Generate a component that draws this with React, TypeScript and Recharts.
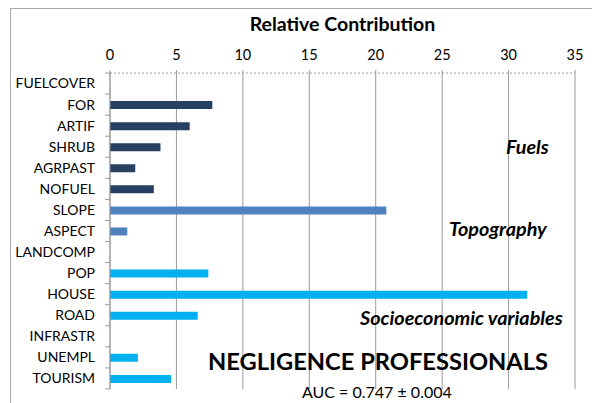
import React from 'react';
import { BarChart, Bar, XAxis, YAxis, CartesianGrid, Cell } from 'recharts';

const categories = ['FUELCOVER', 'FOR', 'ARTIF', 'SHRUB', 'AGRPAST', 'NOFUEL', 'SLOPE', 'ASPECT', 'LANDCOMP', 'POP', 'HOUSE', 'ROAD', 'INFRASTR', 'UNEMPL', 'TOURISM'];
const contributions = [0, 7.7, 6.0, 3.8, 1.9, 3.3, 20.8, 1.3, 0, 7.4, 31.4, 6.6, 0, 2.1, 4.6];
const groups = ['fuel', 'fuel', 'fuel', 'fuel', 'fuel', 'fuel', 'topo', 'topo', 'topo', 'socio', 'socio', 'socio', 'socio', 'socio', 'socio'];
const groupColors: Record<string, string> = { fuel: '#254061', topo: '#4F81BD', socio: '#00B0F0' };
const xTicks = [0, 5, 10, 15, 20, 25, 30, 35];

const data = categories.map((name, i) => ({ name, value: contributions[i], group: groups[i] }));

const FONT = 'Lato, "Open Sans", sans-serif';
const W = 592;
const H = 403;
const MARGIN = { top: 0, right: 17, bottom: 14, left: 0 };
const X_AXIS_H = 73;
const Y_AXIS_W = 110;
const TICK_MARGIN = 15;
const BAND = (H - MARGIN.top - MARGIN.bottom - X_AXIS_H) / categories.length;

const CatTick = (props: any) => {
  const { x, y, payload, index } = props;
  const axisX = x + TICK_MARGIN;
  const half = BAND / 2;
  return (
    <g>
      <line x1={axisX - 5} x2={axisX} y1={y - half} y2={y - half} stroke="#9a9a9a" />
      {index === categories.length - 1 && (
        <line x1={axisX - 5} x2={axisX} y1={y + half} y2={y + half} stroke="#9a9a9a" />
      )}
      <text x={x} y={y} dy="0.35em" textAnchor="end" fill="#000" fontSize={14} fontFamily={FONT}>
        {payload.value}
      </text>
    </g>
  );
};

export default function App() {
  const anno: React.CSSProperties = {
    position: 'absolute',
    fontFamily: FONT,
    fontWeight: 700,
    fontStyle: 'italic',
    fontSize: 19.8,
    color: '#000',
    whiteSpace: 'nowrap',
    lineHeight: 1,
  };
  return (
    <div style={{ position: 'absolute', left: 0, top: 0, width: W, height: H, background: '#fff', overflow: 'hidden' }}>
      <BarChart
        width={W}
        height={H}
        data={data}
        layout="vertical"
        margin={MARGIN}
        style={{ position: 'absolute', left: 0, top: 0, fontFamily: FONT }}
      >
        <CartesianGrid horizontal={false} vertical stroke="#9a9a9a" strokeWidth={1} />
        <XAxis
          type="number"
          orientation="top"
          domain={[0, 35]}
          ticks={xTicks}
          height={X_AXIS_H}
          axisLine={{ stroke: '#9a9a9a', strokeDasharray: '2 2' }}
          tickLine={{ stroke: '#9a9a9a' }}
          tickSize={3}
          tickMargin={10}
          tick={{ fill: '#000', fontSize: 14.5, fontFamily: FONT }}
          label={{ value: 'Relative Contribution', position: 'insideTop', offset: 17, fill: '#000', fontSize: 19.5, fontWeight: 700, fontFamily: FONT }}
        />
        <YAxis
          type="category"
          dataKey="name"
          width={Y_AXIS_W}
          interval={0}
          axisLine={{ stroke: '#9a9a9a' }}
          tickLine={false}
          tickSize={0}
          tickMargin={TICK_MARGIN}
          tick={<CatTick />}
        />
        <Bar dataKey="value" barSize={8} isAnimationActive={false}>
          {data.map((d, i) => (
            <Cell key={i} fill={groupColors[d.group]} />
          ))}
        </Bar>
      </BarChart>
      <div style={{ position: 'absolute', left: 10, top: 8, width: 700, height: 500, borderLeft: '1.5px solid #aaa', borderTop: '1.5px solid #aaa', pointerEvents: 'none' }} />
      <div style={{ ...anno, left: 506, top: 136.5 }}>Fuels</div>
      <div style={{ ...anno, left: 449, top: 218.5 }}>Topography</div>
      <div style={{ ...anno, left: 360, top: 308 }}>Socioeconomic variables</div>
      <div style={{ position: 'absolute', left: 208, top: 350, fontFamily: FONT, fontWeight: 700, fontSize: 23.7, lineHeight: 1, whiteSpace: 'nowrap' }}>NEGLIGENCE PROFESSIONALS</div>
      <div style={{ position: 'absolute', left: 302, top: 384, fontFamily: FONT, fontSize: 16, lineHeight: 1, whiteSpace: 'nowrap' }}>AUC = 0.747 ± 0.004</div>
    </div>
  );
}
